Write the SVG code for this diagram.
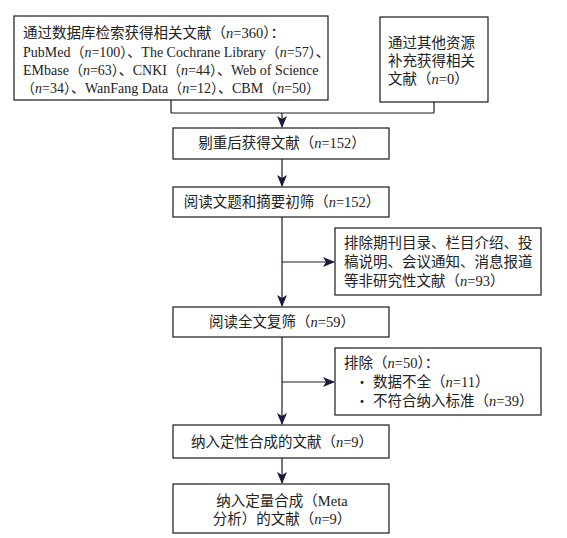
<svg xmlns="http://www.w3.org/2000/svg" width="567" height="538" viewBox="0 0 567 538">
<style>
.box{fill:#fff;stroke:#1a1a1a;stroke-width:1.2}
.ln{fill:none;stroke:#1a1a2e;stroke-width:1.2}
text{font-family:"Liberation Serif","Noto Sans CJK SC",serif;font-size:14.5px;fill:#222}
.s{font-size:14px}
.c{text-anchor:middle}
.i{font-style:italic}
.b{font-size:18px;font-weight:bold}
</style>
<defs>
<marker id="ah" viewBox="0 0 12 10" refX="11" refY="5" markerWidth="12" markerHeight="10" markerUnits="userSpaceOnUse" orient="auto">
<path d="M0,0 L12,5 L0,10 L3,5 Z" fill="#1a1a3a"/>
</marker>
</defs>
<rect width="567" height="538" fill="#fff"/>
<g id="connectors">
<path class="ln" d="M171,100 V113 M434,102 V113 M171,113 H434"/>
<path class="ln" d="M282,113 V127" marker-end="url(#ah)"/>
<path class="ln" d="M282,159 V186" marker-end="url(#ah)"/>
<path class="ln" d="M282,217 V306" marker-end="url(#ah)"/>
<path class="ln" d="M282,262 H334" marker-end="url(#ah)"/>
<path class="ln" d="M282,337 V424" marker-end="url(#ah)"/>
<path class="ln" d="M282,382 H334" marker-end="url(#ah)"/>
<path class="ln" d="M282,458 V483" marker-end="url(#ah)"/>
</g>
<g id="n1">
<rect class="box" x="14" y="16" width="314" height="84"/>
<text x="23" y="38">通过数据库检索获得相关文献（<tspan class="i">n</tspan>=360）：</text>
<text class="s" x="23" y="57">PubMed（<tspan class="i">n</tspan>=100）、The Cochrane Library（<tspan class="i">n</tspan>=57）、</text>
<text class="s" x="23" y="75">EMbase（<tspan class="i">n</tspan>=63）、CNKI（<tspan class="i">n</tspan>=44）、Web of Science</text>
<text class="s" x="21" y="93">（<tspan class="i">n</tspan>=34）、WanFang Data（<tspan class="i">n</tspan>=12）、CBM（<tspan class="i">n</tspan>=50）</text>
</g>
<g id="n2">
<rect class="box" x="380" y="17" width="108" height="85"/>
<text x="388" y="48">通过其他资源</text>
<text x="388" y="66">补充获得相关</text>
<text x="388" y="84">文献（<tspan class="i">n</tspan>=0）</text>
</g>
<g id="n3">
<rect class="box" x="173" y="128" width="216" height="31"/>
<text class="c" x="282" y="148">剔重后获得文献（<tspan class="i">n</tspan>=152）</text>
</g>
<g id="n4">
<rect class="box" x="173" y="187" width="216" height="30"/>
<text class="c" x="282" y="207">阅读文题和摘要初筛（<tspan class="i">n</tspan>=152）</text>
</g>
<g id="n5">
<rect class="box" x="335" y="228" width="206" height="67"/>
<text x="344" y="248">排除期刊目录、栏目介绍、投</text>
<text x="344" y="267">稿说明、会议通知、消息报道</text>
<text x="344" y="286">等非研究性文献（<tspan class="i">n</tspan>=93）</text>
</g>
<g id="n6">
<rect class="box" x="173" y="307" width="216" height="30"/>
<text class="c" x="282" y="327">阅读全文复筛（<tspan class="i">n</tspan>=59）</text>
</g>
<g id="n7">
<rect class="box" x="335" y="348" width="206" height="67"/>
<text x="344" y="368">排除（<tspan class="i">n</tspan>=50）：</text>
<text class="b" x="359" y="389">·</text>
<text x="373" y="387">数据不全（<tspan class="i">n</tspan>=11）</text>
<text class="b" x="359" y="408">·</text>
<text x="373" y="406">不符合纳入标准（<tspan class="i">n</tspan>=39）</text>
</g>
<g id="n8">
<rect class="box" x="173" y="425" width="216" height="33"/>
<text class="c" x="282" y="447">纳入定性合成的文献（<tspan class="i">n</tspan>=9）</text>
</g>
<g id="n9">
<rect class="box" x="173" y="484" width="216" height="49"/>
<text class="c" x="282" y="506">纳入定量合成（Meta</text>
<text class="c" x="282" y="524">分析）的文献（<tspan class="i">n</tspan>=9）</text>
</g>
</svg>
